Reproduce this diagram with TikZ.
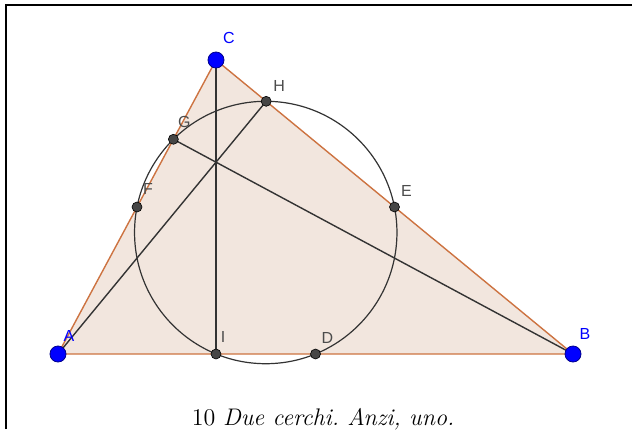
\documentclass[tikz,border=0pt]{standalone}
\usepackage{fontspec}
\setsansfont{Liberation Sans}
\usetikzlibrary{calc}

\definecolor{triedge}{RGB}{205,115,65}
\definecolor{trifill}{RGB}{242,230,222}
\definecolor{ptblue}{RGB}{0,0,255}
\definecolor{ptgray}{RGB}{70,70,70}

\tikzset{
  vertex/.style={circle, fill=ptblue, draw=ptblue!55!black, line width=0.4pt, inner sep=0pt, minimum size=8pt},
  footpt/.style={circle, fill=ptgray, draw=black, line width=0.3pt, inner sep=0pt, minimum size=5pt},
  ptname/.style={font=\sffamily\fontsize{8}{9}\selectfont, text=black!70, inner sep=0pt},
  vname/.style={ptname, text=ptblue},
  altline/.style={draw=black!80, line width=0.7pt},
}

\begin{document}
\begin{tikzpicture}[x=0.5pt, y=-0.5pt]
\useasboundingbox (0,0) rectangle (632,429);

% Frame
\draw[line width=1.2pt] (6,429) -- (6,5) -- (632,5);

% Vertices
\coordinate (A) at (58,354);
\coordinate (B) at (573,354);
\coordinate (C) at (216,60);

% Midpoints of the sides, feet of the altitudes
\coordinate (D) at ($(A)!0.5!(B)$);
\coordinate (E) at ($(B)!0.5!(C)$);
\coordinate (F) at ($(A)!0.5!(C)$);
\coordinate (G) at ($(A)!(B)!(C)$);
\coordinate (H) at ($(B)!(A)!(C)$);
\coordinate (I) at ($(A)!(C)!(B)$);

% Nine-point centre (by hand)
\coordinate (N) at (265.75,232.5);

% Triangle
\fill[trifill] (A) -- (B) -- (C) -- cycle;

% Circle through D, E, F
\draw[black!80, line width=0.6pt] let \p1=($(D)-(N)$), \n1={veclen(\x1,\y1)} in (N) circle[radius=\n1];

% Altitudes
\draw[altline] (C) -- (I);
\draw[altline] (A) -- (H);
\draw[altline] (B) -- (G);

\draw[triedge, line width=0.7pt] (A) -- (B) -- (C) -- cycle;

% Points
\foreach \p in {D,E,F,G,H,I}
  \node[footpt] (p\p) at (\p) {};
\foreach \p in {A,B,C}
  \node[vertex] (p\p) at (\p) {};

% Names
\node[vname] (nA) at ($(A)+(11,-18)$) {A};
\node[vname] (nB) at ($(B)+(12,-20)$) {B};
\node[vname] (nC) at ($(C)+(13,-22)$) {C};
\node[ptname] (nD) at ($(D)+(12,-16)$) {D};
\node[ptname] (nE) at ($(E)+(12,-16)$) {E};
\node[ptname] (nF) at ($(F)+(11,-18)$) {F};
\node[ptname] (nG) at ($(G)+(11,-17)$) {G};
\node[ptname] (nH) at ($(H)+(13,-15)$) {H};
\node[ptname] (nI) at ($(I)+(7,-17)$) {I};

% Caption
\node[anchor=base, font=\fontsize{12}{14}\selectfont, inner sep=0pt] (caption) at (323,425) {\frenchspacing 10 \textit{Due cerchi. Anzi, uno.}};
\end{tikzpicture}
\end{document}
